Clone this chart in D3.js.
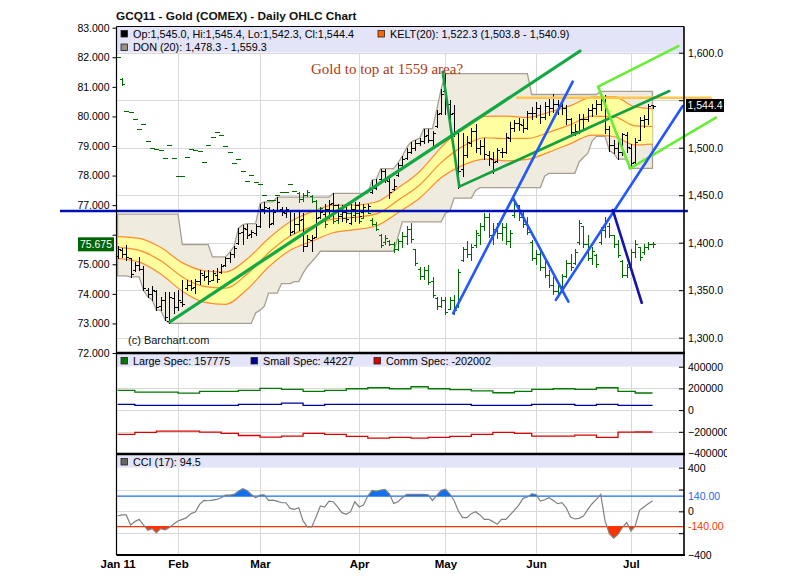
<!DOCTYPE html>
<html><head><meta charset="utf-8">
<script src="https://cdn.jsdelivr.net/npm/d3@7"></script>
<style>
body{margin:0;background:#fff}
svg{display:block}
text{font-family:"Liberation Sans",Arial,Helvetica,sans-serif}
</style>
</head><body>
<svg id="c" width="796" height="584"></svg>
<script>
// ---------------- DATA ----------------
const monthIdx = [0, 14, 33, 56, 76, 97, 119];
const monthLabels = ["Jan 11", "Feb", "Mar", "Apr", "May", "Jun", "Jul"];

const goldOpen = [1386,1392,1388,1384,1371,1376,1372,1350,1346,1349,
1333,1340,1318,1342,1332,1338,1352,1355,1353,1360,
1366,1365,1361,1366,1369,1376,1384,1388,1400,1411,
1414,1409,1410,1418,1436,1437,1421,1434,1436,1431,
1433,1412,1420,1425,1397,1403,1406,1427,1430,1435,
1442,1440,1428,1432,1421,1436,1440,1432,1434,1453,
1458,1467,1475,1465,1456,1471,1482,1489,1496,1500,
1505,1507,1513,1508,1523,1537,1560,1546,1537,1515,
1478,1492,1505,1518,1500,1502,1492,1488,1486,1496,
1495,1510,1521,1526,1524,1521,1537,1537,1542,1532,
1544,1542,1546,1544,1542,1530,1517,1518,1530,1530,
1540,1542,1546,1550,1520,1503,1500,1495,1513,1500,
1485,1508,1529,1530,1545.0];
const goldHigh = [1396,1394,1398,1384,1380,1385,1375,1352,1354,1350,
1343,1348,1348,1348,1350,1361,1361,1361,1362,1371,
1370,1371,1371,1373,1378,1385,1390,1396,1415,1419,
1420,1413,1420,1441,1443,1438,1436,1448,1438,1438,
1433,1431,1433,1431,1408,1408,1431,1436,1441,1445,
1452,1441,1440,1440,1441,1443,1443,1441,1441,1466,
1467,1478,1478,1468,1467,1484,1491,1500,1506,1508,
1510,1520,1520,1518,1540,1562,1578,1550,1545,1520,
1515,1512,1521,1525,1508,1510,1497,1495,1500,1500,
1515,1527,1529,1531,1530,1539,1543,1548,1545,1548,
1552,1556,1550,1548,1545,1531,1525,1535,1536,1542,
1546,1550,1557,1555,1523,1508,1507,1515,1517,1504,
1510,1532,1534,1546,1545.4];
const goldLow = [1384,1385,1382,1364,1370,1371,1350,1343,1340,1329,
1329,1319,1315,1326,1329,1333,1350,1350,1347,1357,
1361,1357,1361,1359,1368,1375,1380,1385,1399,1399,
1405,1406,1408,1417,1431,1417,1420,1434,1429,1427,
1408,1410,1413,1391,1396,1391,1406,1426,1427,1431,
1427,1424,1423,1422,1420,1423,1422,1431,1433,1452,
1456,1466,1464,1447,1455,1470,1480,1488,1494,1498,
1503,1505,1506,1503,1522,1535,1535,1526,1512,1458,
1470,1490,1502,1495,1493,1488,1482,1473,1485,1490,
1494,1507,1518,1519,1517,1520,1530,1532,1526,1530,
1534,1538,1536,1535,1525,1512,1513,1515,1520,1528,
1533,1536,1540,1515,1497,1494,1488,1492,1496,1478.3,
1484,1508,1522,1525,1542.3];
const goldClose = [1393,1388,1385,1367,1376,1372,1352,1346,1350,1332,
1340,1322,1343,1332,1340,1335,1356,1352,1360,1368,
1364,1360,1368,1362,1375,1384,1388,1394,1410,1415,
1408,1411,1418,1436,1438,1420,1432,1443,1432,1435,
1411,1420,1424,1396,1404,1405,1426,1432,1436,1441,
1440,1428,1432,1425,1436,1440,1428,1438,1439,1459,
1461,1475,1466,1453,1460,1482,1488,1496,1500,1505,
1507,1512,1508,1515,1536,1557,1546,1536,1517,1476,
1492,1506,1518,1500,1502,1493,1489,1485,1498,1496,
1511,1521,1526,1525,1521,1537,1537,1542,1532,1544,
1542,1546,1544,1542,1530,1517,1518,1530,1530,1540,
1542,1546,1550,1520,1503,1500,1495,1514,1501,1484,
1506,1529,1530,1544,1544.4];

// second price series (left axis)
const usdOpen = [82.00,81.25,80.20,80.15,79.92,79.58,79.75,79.18,78.92,78.89,
78.87,78.61,79.04,78.60,78.00,77.99,78.62,78.89,78.87,78.83,
78.47,79.04,79.30,79.46,79.38,79.00,78.78,78.44,78.55,78.17,
77.83,78.02,77.79,77.70,77.34,77.17,77.17,77.33,77.46,77.45,
77.70,77.48,77.40,77.20,77.35,77.30,77.15,76.80,76.70,76.60,
76.70,76.50,76.70,76.55,76.75,76.65,76.75,76.58,76.80,76.50,
76.35,76.00,75.75,75.80,75.70,75.50,75.80,75.95,76.20,75.50,
74.85,74.60,74.80,74.45,73.85,73.60,73.80,73.50,73.80,73.60,
75.15,75.50,75.35,75.65,76.00,76.30,76.60,76.00,76.20,76.05,
76.25,75.80,76.65,77.00,76.60,76.35,75.75,75.20,75.35,74.90,
74.65,74.30,74.10,74.25,74.60,75.05,75.05,75.75,76.30,75.70,
75.20,75.30,75.75,76.15,76.30,76.00,75.70,75.10,74.65,74.90,
75.40,75.60,75.40,75.60,75.70];
const usdHigh = [82.00,81.30,80.20,80.15,79.92,79.58,79.75,79.18,78.92,78.89,
78.87,78.61,79.04,78.60,78.00,77.99,78.62,78.89,78.87,78.83,
78.47,79.04,79.30,79.46,79.38,79.00,78.78,78.44,78.55,78.17,
77.83,78.02,77.79,77.70,77.34,77.17,77.17,77.33,77.46,77.45,
77.70,77.48,77.45,77.40,77.51,77.35,77.17,76.95,76.77,76.72,
76.83,76.88,76.72,76.83,76.88,76.83,76.94,76.88,76.83,76.55,
76.43,76.04,75.98,75.81,75.75,75.87,76.10,76.30,76.38,75.53,
74.90,74.90,74.96,74.57,73.89,73.89,73.89,73.89,73.95,74.85,
75.60,75.80,75.70,76.15,76.40,76.72,76.72,76.40,76.40,76.38,
76.38,76.15,77.17,77.00,76.83,76.60,75.81,75.47,75.47,75.25,
74.79,74.57,74.34,74.68,75.13,75.36,75.50,76.49,76.30,76.00,
75.60,75.36,76.26,76.60,76.38,76.00,75.81,75.13,75.00,75.50,
75.81,75.60,75.70,75.75,75.75];
const usdLow = [82.00,81.06,80.20,80.15,79.92,79.58,79.75,79.18,78.92,78.89,
78.87,78.61,79.04,78.60,78.00,77.99,78.62,78.89,78.87,78.83,
78.47,79.04,79.30,79.46,79.38,79.00,78.78,78.44,78.55,78.17,
77.83,78.02,77.79,77.70,77.34,77.17,77.17,77.33,77.46,77.45,
77.70,77.48,77.11,77.15,77.30,77.10,76.72,76.70,76.26,76.55,
76.38,76.38,76.49,76.43,76.49,76.60,76.38,76.55,76.72,76.32,
76.15,75.59,75.70,75.64,75.42,75.47,75.60,75.70,75.76,74.96,
74.50,74.50,74.34,73.89,73.49,73.55,73.32,73.49,73.32,73.55,
75.10,75.25,75.15,75.60,75.70,76.15,75.93,75.70,75.90,75.81,
75.70,75.60,76.60,76.50,76.26,76.04,75.13,75.02,74.79,74.57,
74.23,74.00,73.89,74.23,74.57,74.79,75.00,75.70,75.60,75.13,
75.00,74.90,75.70,75.93,75.93,75.60,75.25,74.57,74.57,74.90,
75.25,75.13,75.36,75.53,75.60];
const usdClose = [82.00,81.10,80.20,80.15,79.92,79.58,79.75,79.18,78.92,78.89,
78.87,78.61,79.04,78.60,78.00,77.99,78.62,78.89,78.87,78.83,
78.47,79.04,79.30,79.46,79.38,79.00,78.78,78.44,78.55,78.17,
77.83,78.02,77.79,77.70,77.34,77.17,77.17,77.33,77.46,77.45,
77.70,77.48,77.20,77.35,77.45,77.15,76.80,76.90,76.35,76.65,
76.45,76.80,76.55,76.75,76.60,76.75,76.45,76.80,76.75,76.35,
76.20,75.65,75.90,75.70,75.50,75.80,75.95,76.20,75.85,75.05,
74.60,74.80,74.40,73.95,73.60,73.80,73.40,73.80,73.45,74.75,
75.50,75.35,75.60,76.05,76.30,76.60,76.00,76.20,76.05,76.25,
75.80,76.05,77.05,76.60,76.35,76.10,75.20,75.35,74.90,74.65,
74.30,74.10,74.25,74.60,75.05,74.90,75.40,76.40,75.70,75.20,
75.45,75.00,76.15,76.45,76.00,75.70,75.30,74.65,74.90,75.40,
75.70,75.25,75.60,75.70,75.675];

// Keltner channel (20) read at sample bars
const keltIdx   = [0,5,10,15,20,25,30,35,40,45,50,55,60,65,70,75,80,85,90,95,100,105,110,115,120,124];
const keltMid   = [1395,1392,1381,1364,1354,1352.1,1366.8,1389.4,1407,1417,1425,1426.7,1430.3,1444.6,1460.7,1484.3,1501.4,1510.5,1509.7,1509.8,1516.3,1524.3,1533.3,1532.8,1522.9,1522.3];
const keltUpper = [1406.5,1404.5,1395,1379,1370.5,1369.1,1382.8,1404.4,1422,1432.5,1439.5,1439.7,1442.8,1457.6,1474.7,1500.3,1521.4,1533,1533.2,1531.8,1537.3,1544.3,1553.3,1553.8,1542.9,1540.9];
const keltLower = [1383.5,1379.5,1367,1349,1337.5,1335.1,1350.8,1374.4,1392,1401.5,1410.5,1413.7,1417.8,1431.6,1446.7,1468.3,1481.4,1488,1486.2,1487.8,1495.3,1504.3,1513.3,1511.8,1502.9,1503.8];

// Donchian channel (20) vertices
const donUpIdx = [0,14,15,21,22,25,26,27,28,29,30,32,33,34,36,37,49,50,58,59,60,61,64,65,66,67,68,69,70,71,73,74,75,76,95,96,111,112,124];
const donUp    = [1430,1430,1398,1398,1385,1385,1390,1396,1415,1419,1420,1420,1441,1443,1443,1448,1448,1452,1452,1466,1467,1478,1478,1484,1491,1500,1506,1508,1510,1520,1520,1540,1562,1578,1578,1556,1556,1559.3,1559.3];
const donLoIdx = [0,2,3,5,6,7,8,9,10,11,12,31,32,33,34,35,37,38,40,41,42,43,44,45,46,47,64,65,66,75,76,77,78,82,83,84,98,99,100,106,107,108,109,110,111,113,114,115,116,118,119,124];
const donLo    = [1365,1365,1364,1364,1350,1343,1340,1329,1329,1319,1315,1315,1326,1329,1333,1347,1347,1357,1357,1359,1359,1368,1375,1380,1385,1391,1391,1406,1422,1422,1431,1433,1447,1447,1455,1458,1458,1470,1473,1473,1485,1490,1494,1507,1512,1512,1497,1494,1488,1488,1478.3,1478.3];

// Commitment of traders (weekly)
const cotIdx   = [0,4,9,14,19,24,28,33,38,43,48,53,58,63,68,72,77,82,87,92,96,101,106,111,116,120];
const largeSpec= [181500,166000,166000,157000,172000,172000,181500,200000,191000,172000,182000,197000,206000,197000,215000,197000,188000,178000,160000,172000,191000,197000,191000,206000,172000,157775];
const smallSpec= [52600,43400,43400,43400,43400,43400,52600,52600,64600,43400,52600,52600,52600,52600,52600,52600,52600,43400,43400,43400,52600,52600,43400,52600,44227,44227];
const commSpec = [-224000,-206000,-194000,-194000,-203000,-215000,-234000,-249000,-240000,-215000,-224000,-243000,-258000,-252000,-258000,-252000,-243000,-224000,-206000,-215000,-240000,-240000,-230000,-252000,-203000,-202002];

// CCI (17)
const cci = [-43,-33,-33,-125,-94,-73,-125,-173,-158,-195,
-158,-170,-149,-116,-88,-73,-58,-21,-6,64,
100,97,103,109,125,149,149,155,185,207,
192,155,125,149,152,100,103,94,79,79,
27,18,33,-88,-143,-143,-52,49,40,94,
88,40,-12,-27,-3,88,40,58,140,192,
185,195,201,161,73,88,125,155,155,155,
155,155,152,100,146,192,204,161,100,3,
-58,-58,-21,-3,-33,-73,-73,-94,-119,-73,
-73,-33,12,58,119,131,161,155,94,106,
125,100,70,79,33,-52,-70,-64,-43,18,
70,109,155,-88,-204,-246,-210,-149,-103,-179,
-134,9,40,70,94.5];

// hand-drawn studies: [index1, price1, index2, price2]
const trendLong    = [[12.15,1316.8,107.2,1601.8]];
const trendChannel = [[75.36,1580,79.2,1459],[79.2,1459,127.9,1559.7]];
const trendLight   = [[111.4,1564.2,130,1607],[111.4,1564.2,118.8,1478.3],[118.8,1478.3,138.7,1531.6]];
const trendBlue    = [[77.8,1325.7,105.5,1569.5],[91.7,1446.7,104.5,1337.9],[101.6,1339.8,131.0,1543.9]];
const trendNavy    = [[114.8,1434.4,121.5,1336.8]];
const levelBlue    = [-13.35,132.2,1433.4];
const levelOrange  = [92.4,137.7,1552.6];

const goldTicks = [1300,1350,1400,1450,1500,1550,1600];
const usdTicks  = [72,73,74,75,76,77,78,79,80,81,82,83];
const cotTicks  = [400000,200000,0,-200000,-400000];
const cciTicks  = [400,200,0,-200,-400];

// ---------------- LAYOUT ----------------
const svg = d3.select('#c');
const PL = 116.5, PR = 684;
const mainTop = 26.5, mainBand = 52.5, mainBot = 353;
const cotBand = 366.7, cotBot = 454;
const cciBand = 467.7, cciBot = 555;
const grid = '#d8d8d8', bandFill = '#e4e4f8';

const x   = d3.scaleLinear().domain([0,124]).range([117.6, 652.5]);
const yG  = d3.scaleLinear().domain([1300,1600]).range([337.7, 52.7]);
const yU  = d3.scaleLinear().domain([72,83]).range([353, 27.7]);
const yC  = d3.scaleLinear().domain([-400000,400000]).range([453.5, 366.7]);
const yI  = d3.scaleLinear().domain([-400,400]).range([555, 467.7]);

svg.append('rect').attr('width',796).attr('height',584).attr('fill','#fff');
const defs = svg.append('defs');
defs.append('clipPath').attr('id','rclip').append('rect').attr('x',0).attr('y',0).attr('width',727).attr('height',584);
defs.append('clipPath').attr('id','cciUp').append('rect').attr('x',PL).attr('y',cciBand).attr('width',PR-PL).attr('height',yI(140)-cciBand);
defs.append('clipPath').attr('id','cciDn').append('rect').attr('x',PL).attr('y',yI(-140)).attr('width',PR-PL).attr('height',cciBot-yI(-140));

// title
svg.append('text').attr('x',116).attr('y',19.5).attr('font-size',11.8).attr('font-weight','bold').attr('fill','#111')
  .text('GCQ11 - Gold (COMEX) - Daily OHLC Chart');

// legend bands
[[mainTop, mainBand],[mainBot, cotBand],[cotBot, cciBand]].forEach(([a,b])=>{
  svg.append('rect').attr('x',PL).attr('y',a).attr('width',PR-PL).attr('height',b-a).attr('fill',bandFill);
});

// grids
const gGrid = svg.append('g').attr('stroke',grid).attr('stroke-width',1).attr('shape-rendering','crispEdges');
monthIdx.slice(1).forEach(m=>{
  const X = Math.round(x(m))+0.5;
  [[mainBand,mainBot],[cotBand,cotBot],[cciBand,cciBot]].forEach(([a,b])=>{
    gGrid.append('line').attr('x1',X).attr('x2',X).attr('y1',a).attr('y2',b);
  });
});
goldTicks.forEach(v=>{ const Y=Math.round(yG(v))+0.5; gGrid.append('line').attr('x1',PL).attr('x2',PR).attr('y1',Y).attr('y2',Y); });
[200000,0,-200000].forEach(v=>{ const Y=Math.round(yC(v))+0.5; gGrid.append('line').attr('x1',PL).attr('x2',PR).attr('y1',Y).attr('y2',Y); });
[200,0,-200].forEach(v=>{ const Y=Math.round(yI(v))+0.5; gGrid.append('line').attr('x1',PL).attr('x2',PR).attr('y1',Y).attr('y2',Y); });

// Donchian
const donPts = donUpIdx.map((d,k)=>[d,donUp[k]]).concat(donLoIdx.map((d,k)=>[d,donLo[k]]).reverse());
svg.append('path').attr('d', d3.line().x(d=>x(d[0])).y(d=>yG(d[1]))(donPts)+'Z')
  .attr('fill','#efebdf').attr('stroke','#a89f94').attr('stroke-width',1.3);

// Keltner
const kel = keltIdx.map((d,k)=>({i:d,m:keltMid[k],u:keltUpper[k],l:keltLower[k]}));
svg.append('path').attr('d', d3.area().curve(d3.curveMonotoneX).x(d=>x(d.i)).y0(d=>yG(d.l)).y1(d=>yG(d.u))(kel))
  .attr('fill','#ffffa0');
['u','m','l'].forEach(key=>{
  svg.append('path').attr('d', d3.line().curve(d3.curveMonotoneX).x(d=>x(d.i)).y(d=>yG(d[key]))(kel))
    .attr('fill','none').attr('stroke','#ff8c2e').attr('stroke-width',1.2);
});

// OHLC bars
function bars(o,h,l,c,y,color){
  let p='';
  o.forEach((_,i)=>{
    const X=Math.round(x(i))+0.5;
    const r=v=>Math.round(y(v))+0.5;
    p+=`M${X},${r(h[i])-0.5}V${r(l[i])+0.5}M${X-2.5},${r(o[i])}H${X}M${X},${r(c[i])}H${X+2.5}`;
  });
  svg.append('path').attr('d',p).attr('fill','none').attr('stroke',color).attr('stroke-width',1).attr('shape-rendering','crispEdges');
}
bars(usdOpen,usdHigh,usdLow,usdClose,yU,'#006a00');
bars(goldOpen,goldHigh,goldLow,goldClose,yG,'#000');

// hand-drawn studies
function seg(list,color,w){
  list.forEach(s=>svg.append('line').attr('x1',x(s[0])).attr('y1',yG(s[1])).attr('x2',x(s[2])).attr('y2',yG(s[3]))
    .attr('stroke',color).attr('stroke-width',w).attr('stroke-linecap','round'));
}
svg.append('line').attr('x1',x(levelOrange[0])).attr('x2',x(levelOrange[1])).attr('y1',yG(levelOrange[2])).attr('y2',yG(levelOrange[2]))
  .attr('stroke','#ffc64a').attr('stroke-width',2.5);
seg(trendLong,'#12a843',3.2);
seg(trendChannel,'#12a040',2.6);
seg(trendLight,'#66ee33',2.6);
seg(trendBlue,'#2257ff',2.6);
seg(trendNavy,'#1515a8',2.6);
svg.append('line').attr('x1',x(levelBlue[0])).attr('x2',x(levelBlue[1])).attr('y1',yG(levelBlue[2])).attr('y2',yG(levelBlue[2]))
  .attr('stroke','#0010b4').attr('stroke-width',2.6);

svg.append('text').attr('x',311).attr('y',73.5).attr('font-size',15).attr('fill','#b2380c')
  .style('font-family','"Liberation Serif","Times New Roman",serif').text('Gold to top at 1559 area?');
svg.append('text').attr('x',128).attr('y',344).attr('font-size',11).attr('fill','#111').text('(c) Barchart.com');

// COT step lines
function steps(vals,color){
  const pts = cotIdx.map((d,k)=>[d,vals[k]]).concat([[124, vals[vals.length-1]]]);
  svg.append('path').attr('d', d3.line().curve(d3.curveStepAfter).x(d=>x(d[0])).y(d=>yC(d[1]))(pts))
    .attr('fill','none').attr('stroke',color).attr('stroke-width',1.3);
}
steps(largeSpec,'#007a00'); steps(smallSpec,'#000099'); steps(commSpec,'#dd0000');

// CCI
const cciArea0 = v=>d3.area().x((d,i)=>x(i)).y0(yI(v)).y1(d=>yI(d))(cci);
svg.append('path').attr('d',cciArea0(140)).attr('fill','#1070ee').attr('clip-path','url(#cciUp)');
svg.append('path').attr('d',cciArea0(-140)).attr('fill','#ff3300').attr('clip-path','url(#cciDn)');
svg.append('line').attr('x1',PL).attr('x2',PR).attr('y1',yI(140)).attr('y2',yI(140)).attr('stroke','#1a6cf0').attr('stroke-width',1.3);
svg.append('line').attr('x1',PL).attr('x2',PR).attr('y1',yI(-140)).attr('y2',yI(-140)).attr('stroke','#ff3300').attr('stroke-width',1.3);
svg.append('path').attr('d',d3.line().x((d,i)=>x(i)).y(d=>yI(d))(cci)).attr('fill','none').attr('stroke','#808080').attr('stroke-width',1.2);

// frames
const fr = svg.append('g').attr('stroke','#000').attr('fill','none');
fr.append('line').attr('x1',PL).attr('x2',PR).attr('y1',mainTop).attr('y2',mainTop).attr('stroke-width',1.2);
fr.append('line').attr('x1',PL).attr('x2',PL).attr('y1',mainTop).attr('y2',cciBot).attr('stroke-width',1.2);
fr.append('line').attr('x1',PR).attr('x2',PR).attr('y1',mainTop).attr('y2',cciBot).attr('stroke-width',1.6);
[mainBot, cotBot].forEach(Y=>fr.append('line').attr('x1',PL).attr('x2',PR+1).attr('y1',Y).attr('y2',Y).attr('stroke-width',2.6));
fr.append('line').attr('x1',PL).attr('x2',PR+1).attr('y1',cciBot).attr('y2',cciBot).attr('stroke-width',2);

// axes
function styleAxis(g,fs){ g.select('.domain').remove(); g.selectAll('line').attr('stroke','#000'); g.selectAll('text').attr('fill','#000').attr('font-size',fs).style('font-family','"Liberation Sans",Arial,sans-serif'); }
const fG = d3.format(',.1f');
const gR = svg.append('g').attr('clip-path','url(#rclip)');
gR.append('g').attr('transform',`translate(${PR},0)`)
  .call(d3.axisRight(yG).tickValues(goldTicks).tickSize(-5).tickPadding(4).tickFormat(v=>v===1550?'':fG(v)))
  .call(g=>styleAxis(g,10.5));
svg.append('g').attr('transform',`translate(${PL},0)`)
  .call(d3.axisLeft(yU).tickValues(usdTicks).tickSize(4).tickPadding(3).tickFormat(v=>v===76?'':d3.format('.3f')(v)))
  .call(g=>styleAxis(g,10.5));
gR.append('g').attr('transform',`translate(${PR},0)`)
  .call(d3.axisRight(yC).tickValues(cotTicks).tickSize(-5).tickPadding(4).tickFormat(d3.format('d')))
  .call(g=>styleAxis(g,10.5));
gR.append('g').attr('transform',`translate(${PR},0)`)
  .call(d3.axisRight(yI).tickValues(cciTicks).tickSize(-5).tickPadding(4).tickFormat(v=>Math.abs(v)===200?'':d3.format('d')(v)))
  .call(g=>styleAxis(g,10.5));
gR.append('text').attr('x',PR+4).attr('y',yI(140)).attr('dy','0.35em').attr('font-size',10.5).attr('fill','#1a6cf0').text('140.00');
gR.append('text').attr('x',PR+4).attr('y',yI(-140)).attr('dy','0.35em').attr('font-size',10.5).attr('fill','#ff3300').text('-140.00');
svg.append('g').attr('transform',`translate(0,${cciBot})`)
  .call(d3.axisBottom(x).tickValues(monthIdx).tickSize(0).tickPadding(5).tickFormat((d,k)=>monthLabels[k]))
  .call(g=>{ styleAxis(g,11.5); g.selectAll('text').attr('font-weight','bold'); });

// last-value boxes
const lastG = goldClose[goldClose.length-1], lastU = usdClose[usdClose.length-1];
gR.append('rect').attr('x',686).attr('y',yG(lastG)-6.5).attr('width',38).attr('height',13).attr('fill','#000');
gR.append('text').attr('x',705).attr('y',yG(lastG)).attr('dy','0.36em').attr('text-anchor','middle').attr('font-size',10.5).attr('fill','#fff').text(fG(lastG));
svg.append('rect').attr('x',78).attr('y',yU(lastU)-7).attr('width',36).attr('height',14).attr('fill','#006400');
svg.append('text').attr('x',96).attr('y',yU(lastU)).attr('dy','0.36em').attr('text-anchor','middle').attr('font-size',10.5).attr('fill','#fff').text(d3.format('.3f')(lastU));

// legends
function legend(xq,yb,col,txt){
  svg.append('rect').attr('x',xq).attr('y',yb-7).attr('width',6.5).attr('height',6.5).attr('fill',col).attr('stroke','#222').attr('stroke-width',0.8);
  svg.append('text').attr('x',xq+12).attr('y',yb).attr('font-size',10.8).attr('fill','#000').text(txt);
}
const n = goldClose.length-1, k = keltMid.length-1;
legend(121,37.5,'#000',`Op:${fG(goldOpen[n])}, Hi:${fG(goldHigh[n])}, Lo:${fG(goldLow[n])}, Cl:${fG(goldClose[n])}`);
legend(378,37.5,'#ff6600',`KELT(20): ${fG(keltMid[k])} (${fG(keltLower[k])} - ${fG(keltUpper[k])})`);
legend(121,51,'#9a9080',`DON (20): ${fG(donLo[donLo.length-1])} - ${fG(donUp[donUp.length-1])}`);
legend(121,364.5,'#007a00',`Large Spec: ${largeSpec[largeSpec.length-1]}`);
legend(251,364.5,'#000099',`Small Spec: ${smallSpec[smallSpec.length-1]}`);
legend(374,364.5,'#dd0000',`Comm Spec: ${commSpec[commSpec.length-1]}`);
legend(121,465.5,'#666',`CCI (17): ${cci[cci.length-1]}`);
</script>
</body></html>
